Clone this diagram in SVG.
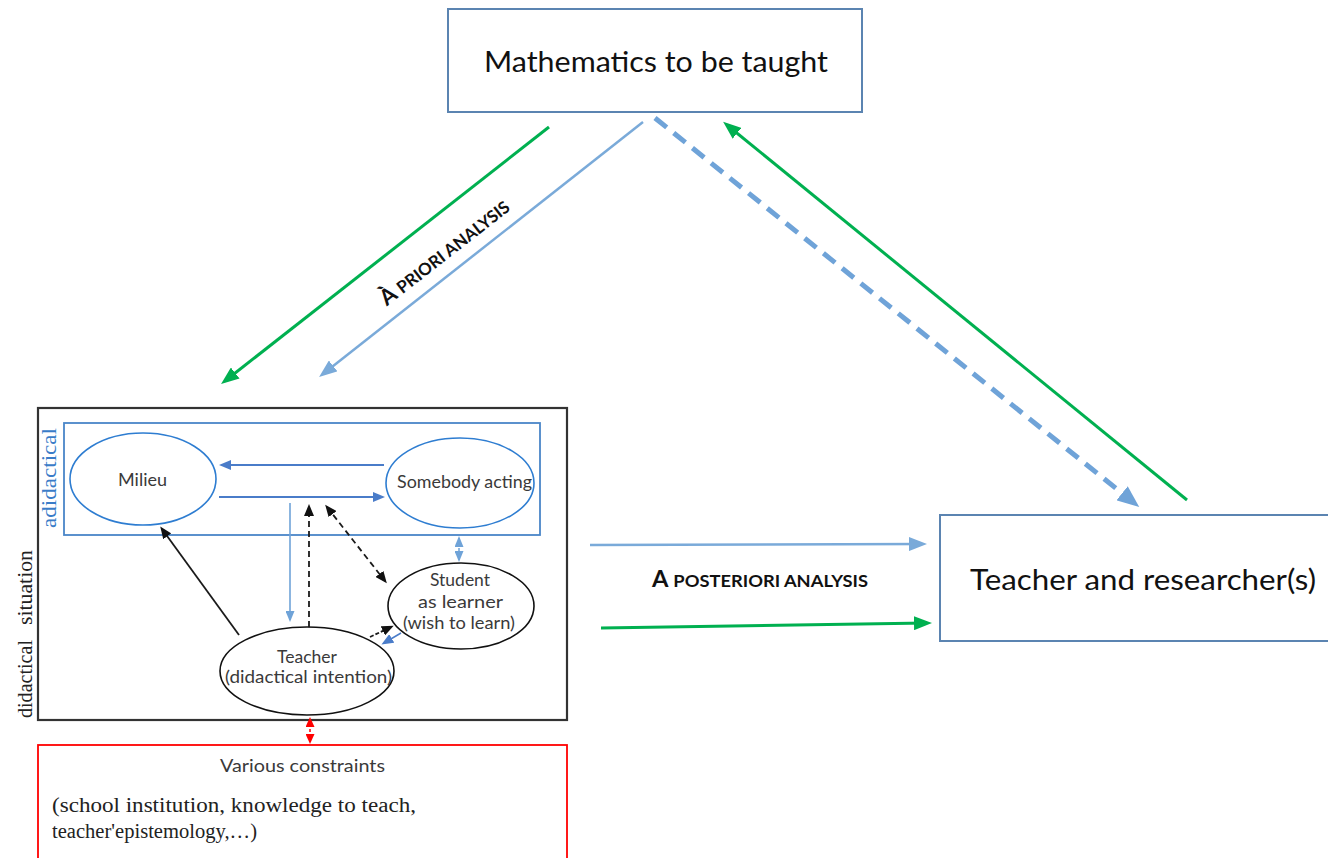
<svg xmlns="http://www.w3.org/2000/svg" width="1328" height="858" viewBox="0 0 1328 858">
  <style>
    .box { fill: #ffffff; stroke: #5b84b1; stroke-width: 2; }
    .big { font-family: Lato, "Open Sans", sans-serif; font-size: 29px; fill: #111; }
    .lbl { font-family: Lato, "Open Sans", sans-serif; font-size: 17px; fill: #3a3a3a; }
    .caps { font-family: Lato, "Open Sans", sans-serif; font-weight: bold; fill: #111; }
    .serif { font-family: "Liberation Serif", "DejaVu Serif", serif; }
    .green { stroke: #00b050; stroke-width: 3; fill: none; }
    .lblue { stroke: #7aaad9; stroke-width: 2.5; fill: none; }
    .dblue { stroke: #4a7cc9; stroke-width: 2; fill: none; }
    .blk { stroke: #1a1a1a; stroke-width: 1.8; fill: none; }
  </style>
  <defs>
    <marker id="ahGreen" markerUnits="userSpaceOnUse" markerWidth="18" markerHeight="14" refX="13" refY="7" orient="auto">
      <path d="M0,0 L18,7 L0,14 z" fill="#00b050"/>
    </marker>
    <marker id="ahBlue" markerUnits="userSpaceOnUse" markerWidth="18" markerHeight="14" refX="13" refY="7" orient="auto">
      <path d="M0,0 L18,7 L0,14 z" fill="#7aaad9"/>
    </marker>
    <marker id="ahBlueBig" markerUnits="userSpaceOnUse" markerWidth="22" markerHeight="18" refX="14" refY="9" orient="auto">
      <path d="M0,0 L22,9 L0,18 z" fill="#6fa3d8"/>
    </marker>
    <marker id="ahSmBlue" markerUnits="userSpaceOnUse" markerWidth="12" markerHeight="10" refX="9" refY="5" orient="auto-start-reverse">
      <path d="M0,0 L12,5 L0,10 z" fill="#4a7cc9"/>
    </marker>
    <marker id="ahSmLBlue" markerUnits="userSpaceOnUse" markerWidth="11" markerHeight="9" refX="9" refY="4.5" orient="auto-start-reverse">
      <path d="M0,0 L11,4.5 L0,9 z" fill="#6fa3d8"/>
    </marker>
    <marker id="ahBlack" markerUnits="userSpaceOnUse" markerWidth="12" markerHeight="10" refX="9" refY="5" orient="auto-start-reverse">
      <path d="M0,0 L12,5 L0,10 z" fill="#111"/>
    </marker>
    <marker id="ahRed" markerUnits="userSpaceOnUse" markerWidth="10" markerHeight="9" refX="8" refY="4.5" orient="auto-start-reverse">
      <path d="M0,0 L10,4.5 L0,9 z" fill="#ff0000"/>
    </marker>
  </defs>

  <rect width="1328" height="858" fill="#ffffff"/>

  <!-- Top box -->
  <g id="math">
    <rect class="box" x="448" y="9" width="414" height="103"/>
    <text class="big" x="484" y="72" textLength="344" lengthAdjust="spacingAndGlyphs">Mathematics to be taught</text>
  </g>

  <!-- Right box (runs off the right edge) -->
  <g id="teacher-researcher">
    <rect class="box" x="940" y="515" width="400" height="126"/>
    <text class="big" x="970" y="590" textLength="346" lengthAdjust="spacingAndGlyphs">Teacher and researcher(s)</text>
  </g>

  <!-- Didactical situation frame -->
  <g id="situation">
    <rect x="38" y="408" width="529" height="312" fill="none" stroke="#333" stroke-width="2.2"/>
    <text class="serif" transform="translate(32,718) rotate(-90)" font-size="20" fill="#222" textLength="78" lengthAdjust="spacingAndGlyphs">didactical</text>
    <text class="serif" transform="translate(32,625) rotate(-90)" font-size="20" fill="#222" textLength="75" lengthAdjust="spacingAndGlyphs">situation</text>
  </g>

  <!-- Adidactical frame -->
  <g id="adidactical">
    <rect x="64" y="423" width="476" height="112" fill="none" stroke="#4a86c8" stroke-width="1.8"/>
    <text class="serif" transform="translate(56,528) rotate(-90)" font-size="21" fill="#3a7cc8" textLength="100" lengthAdjust="spacingAndGlyphs">adidactical</text>
  </g>

  <g id="milieu">
    <ellipse cx="143" cy="479" rx="73" ry="46" fill="none" stroke="#2e7dd1" stroke-width="1.6"/>
    <text class="lbl" x="118" y="486" textLength="49" lengthAdjust="spacingAndGlyphs">Milieu</text>
  </g>

  <g id="somebody">
    <ellipse cx="460" cy="483" rx="74" ry="45" fill="none" stroke="#2e7dd1" stroke-width="1.6"/>
    <text class="lbl" x="397" y="488" textLength="135" lengthAdjust="spacingAndGlyphs">Somebody acting</text>
  </g>

  <g id="student">
    <ellipse cx="461" cy="606" rx="73" ry="43" fill="none" stroke="#111" stroke-width="1.6"/>
    <text class="lbl" x="430" y="586" textLength="60" lengthAdjust="spacingAndGlyphs">Student</text>
    <text class="lbl" x="418" y="608" textLength="85" lengthAdjust="spacingAndGlyphs">as learner</text>
    <text class="lbl" x="403" y="629" textLength="112" lengthAdjust="spacingAndGlyphs">(wish to learn)</text>
  </g>

  <g id="teacher">
    <ellipse cx="307" cy="671" rx="87" ry="44" fill="#ffffff" stroke="#111" stroke-width="1.6"/>
    <text class="lbl" x="277" y="663" textLength="60" lengthAdjust="spacingAndGlyphs">Teacher</text>
    <text class="lbl" x="225" y="683" textLength="167" lengthAdjust="spacingAndGlyphs">(didactical intention)</text>
  </g>

  <g id="constraints">
    <rect x="38" y="745" width="529" height="130" fill="none" stroke="#ff0000" stroke-width="1.8"/>
    <text class="lbl" x="220" y="772" textLength="165" lengthAdjust="spacingAndGlyphs">Various constraints</text>
    <text class="serif" x="52" y="812" font-size="20" fill="#222" textLength="364" lengthAdjust="spacingAndGlyphs">(school institution, knowledge to teach,</text>
    <text class="serif" x="52" y="838" font-size="20" fill="#222" textLength="205" lengthAdjust="spacingAndGlyphs">teacher'epistemology,…)</text>
  </g>

  <!-- Labels on the analysis arrows -->
  <g id="labels">
    <text class="caps" transform="translate(449,258) rotate(-38)" text-anchor="middle"><tspan font-size="22">À </tspan><tspan font-size="17">PRIORI ANALYSIS</tspan></text>
    <text class="caps" x="652" y="587" textLength="216" lengthAdjust="spacingAndGlyphs"><tspan font-size="22">A </tspan><tspan font-size="17">POSTERIORI ANALYSIS</tspan></text>
  </g>

  <g id="connectors">
    <!-- analysis arrows between the three poles -->
    <line class="green" x1="549" y1="127" x2="225" y2="381" marker-end="url(#ahGreen)"/>
    <line class="lblue" x1="643" y1="122" x2="323" y2="374" marker-end="url(#ahBlue)"/>
    <line x1="655" y1="118" x2="1133" y2="502" stroke="#6fa3d8" stroke-width="5" stroke-dasharray="15 9" marker-end="url(#ahBlueBig)"/>
    <line class="green" x1="1187" y1="500" x2="727" y2="125" marker-end="url(#ahGreen)"/>
    <line class="lblue" x1="590" y1="545" x2="922" y2="544" marker-end="url(#ahBlue)"/>
    <line class="green" x1="601" y1="628" x2="927" y2="623" marker-end="url(#ahGreen)"/>

    <!-- inside the adidactical situation -->
    <line class="dblue" x1="384" y1="465" x2="222" y2="465" marker-end="url(#ahSmBlue)"/>
    <line class="dblue" x1="219" y1="497" x2="382" y2="497" marker-end="url(#ahSmBlue)"/>

    <!-- teacher / student links -->
    <line x1="290" y1="503" x2="290" y2="620" stroke="#6fa3d8" stroke-width="1.6" marker-end="url(#ahSmLBlue)"/>
    <line class="blk" x1="309" y1="627" x2="309" y2="507" stroke-dasharray="6 4" marker-end="url(#ahBlack)"/>
    <line class="blk" x1="327" y1="507" x2="385" y2="581" stroke-dasharray="6 4" marker-start="url(#ahBlack)" marker-end="url(#ahBlack)"/>
    <line class="blk" x1="239" y1="635" x2="162" y2="529" marker-end="url(#ahBlack)"/>
    <line x1="459" y1="538" x2="459" y2="560" stroke="#6fa3d8" stroke-width="1.5" stroke-dasharray="3 2" marker-start="url(#ahSmLBlue)" marker-end="url(#ahSmLBlue)"/>
    <line class="blk" x1="370" y1="637" x2="391" y2="627" stroke-dasharray="4 2" marker-end="url(#ahBlack)"/>
    <line x1="401" y1="633" x2="384" y2="643" stroke="#4a7cc9" stroke-width="1.5" marker-end="url(#ahSmBlue)"/>

    <!-- teacher to constraints -->
    <line x1="310" y1="719" x2="310" y2="742" stroke="#ff0000" stroke-width="1.5" stroke-dasharray="3 2" marker-start="url(#ahRed)" marker-end="url(#ahRed)"/>
  </g>
</svg>
